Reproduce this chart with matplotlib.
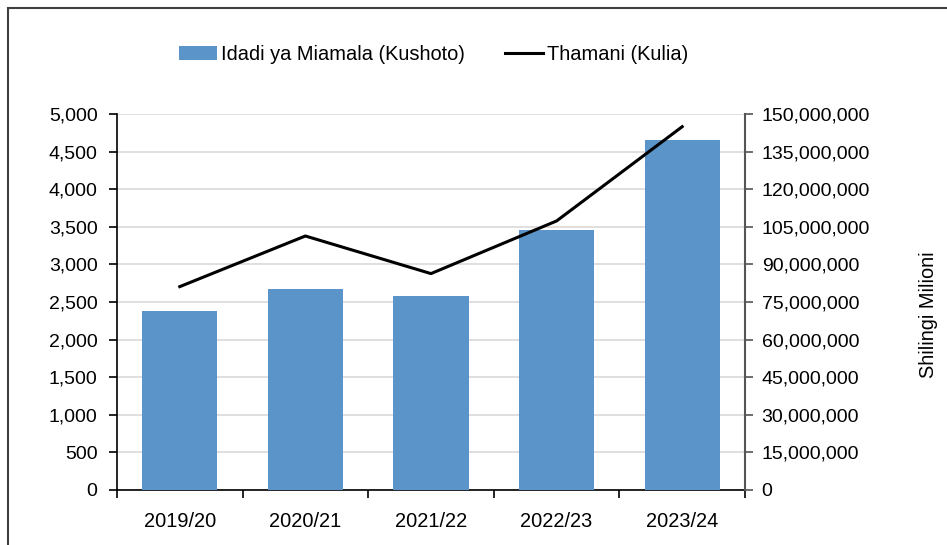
import numpy as np
import matplotlib

matplotlib.use("Agg")
import matplotlib.pyplot as plt
from matplotlib.patches import Rectangle

# ===================== Data =====================
years = ["2019/20", "2020/21", "2021/22", "2022/23", "2023/24"]
idadi = np.array([2380, 2670, 2585, 3455, 4655])          # left axis
thamani = np.array([81.1e6, 101.3e6, 86.3e6, 107.3e6, 144.9e6])  # right axis

left_ticks = np.arange(0, 5001, 500)
right_ticks = np.arange(0, 150_000_001, 15_000_000)

bar_label = "Idadi ya Miamala (Kushoto)"
line_label = "Thamani (Kulia)"
right_ylabel = "Shilingi Milioni"

# ===================== Style =====================
plt.rcParams.update({
    "font.family": ["Liberation Sans", "DejaVu Sans"],
    "font.size": 14,
})

fig = plt.figure(figsize=(9.47, 5.45), dpi=100)
fig.patch.set_facecolor("white")
ax = fig.add_axes([0.1235, 0.101, 0.6632, 0.690])
ax2 = ax.twinx()

# ===================== Bars + line =====================
x = np.arange(len(years))
bars = ax.bar(x, idadi, width=0.6, color="#5B94C8", edgecolor="none", zorder=3)
line, = ax2.plot(x, thamani, color="black", linewidth=2.2, zorder=4)

# ===================== Axes =====================
ax.set_xlim(-0.5, len(years) - 0.5)
ax.set_ylim(0, 5000)
ax.set_yticks(left_ticks)
ax.set_yticklabels([f"{v:,}" for v in left_ticks])
ax2.set_ylim(0, 150_000_000)
ax2.set_yticks(right_ticks)
ax2.set_yticklabels([f"{v:,}" for v in right_ticks])

# boundary ticks on x, labels centred under bars
ax.set_xticks(np.arange(-0.5, len(years)), labels=[""] * (len(years) + 1))
ax.set_xticks(x, minor=True, labels=years)
ax.tick_params(axis="x", which="major", length=6, width=1.2, direction="out")
ax.tick_params(axis="x", which="minor", length=0, pad=16, labelsize=14.4)
ax.tick_params(axis="y", length=6, width=1.2, pad=8, labelsize=14)
ax2.tick_params(axis="y", length=6, width=1.2, pad=6, labelsize=14,
                color="#555555")

ax.yaxis.grid(True, color="#D9D9D9", linewidth=1.2, zorder=0)
ax.set_axisbelow(True)

for a in (ax, ax2):
    a.spines["top"].set_visible(False)
ax.spines["right"].set_visible(False)
ax.spines["left"].set_linewidth(1.2)
ax.spines["bottom"].set_linewidth(1.2)
ax2.spines["left"].set_visible(False)
ax2.spines["bottom"].set_visible(False)
ax2.spines["right"].set_color("#555555")
ax2.spines["right"].set_linewidth(1.5)

# right axis title, placed like the original
fig.text(928 / 947, 1 - 315 / 545, right_ylabel, rotation=90,
         ha="center", va="center", fontsize=14.4)

# ===================== Legend =====================
fig.legend([bars, line], [bar_label, line_label], ncol=2, frameon=False,
           loc="center", bbox_to_anchor=(0.458, 0.900), fontsize=14.4,
           handlelength=1.9, handletextpad=0.2, columnspacing=2.0)

# ===================== Frame =====================
fig.patches.append(Rectangle((8 / 947, -0.05), 1.2, 1.05 - 8 / 545,
                             transform=fig.transFigure, fill=False,
                             edgecolor="#404040", linewidth=1.5))

fig.savefig("out.png", dpi=100)
